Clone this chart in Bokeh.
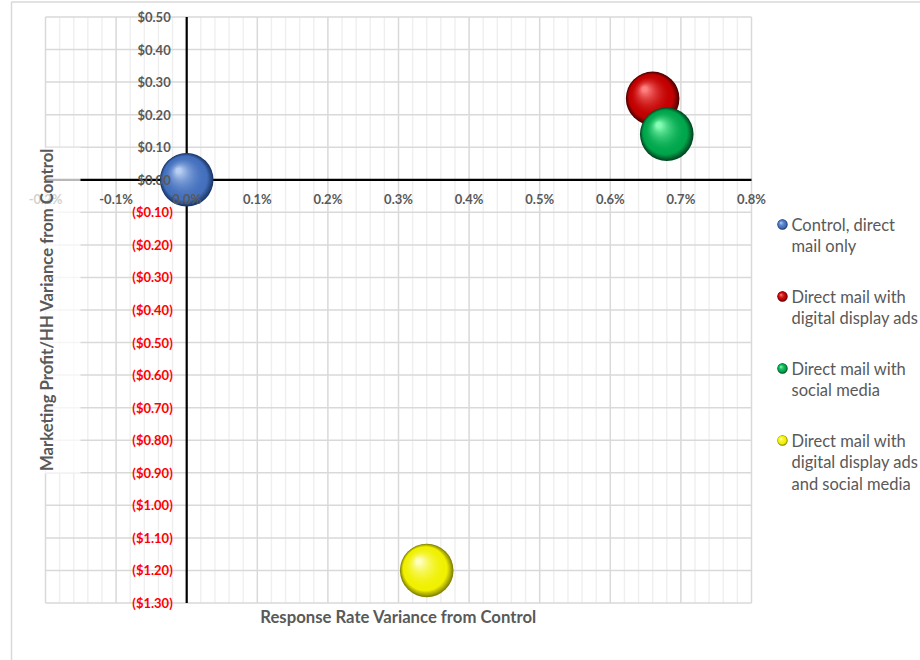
import numpy as np
from bokeh.plotting import figure
from bokeh.models import ColumnDataSource, Range1d
from bokeh.core.properties import value
from bokeh.embed import file_html
from bokeh.resources import INLINE

# ---------------- data ----------------
series = [
    "Control, direct mail only",
    "Direct mail with digital display ads",
    "Direct mail with social media",
    "Direct mail with digital display ads and social media",
]
legend_lines = [
    ["Control, direct", "mail only"],
    ["Direct mail with", "digital display ads"],
    ["Direct mail with", "social media"],
    ["Direct mail with", "digital display ads", "and social media"],
]
response_rate_var = [0.0000, 0.0066, 0.0068, 0.0034]
profit_per_hh_var = [0.00, 0.25, 0.14, -1.20]

x_ticks = [-0.002, -0.001, 0.0, 0.001, 0.002, 0.003, 0.004, 0.005, 0.006, 0.007, 0.008]
x_tick_labels = ["-0.2%", "-0.1%", "0.0%", "0.1%", "0.2%", "0.3%", "0.4%",
                 "0.5%", "0.6%", "0.7%", "0.8%"]
y_ticks = [0.5, 0.4, 0.3, 0.2, 0.1, 0.0, -0.1, -0.2, -0.3, -0.4, -0.5, -0.6,
           -0.7, -0.8, -0.9, -1.0, -1.1, -1.2, -1.3]
y_tick_labels = ["$0.50", "$0.40", "$0.30", "$0.20", "$0.10", "$0.00",
                 "($0.10)", "($0.20)", "($0.30)", "($0.40)", "($0.50)", "($0.60)",
                 "($0.70)", "($0.80)", "($0.90)", "($1.00)", "($1.10)", "($1.20)",
                 "($1.30)"]

# sphere shading per series: (rim, body, highlight)
sphere_colors = [
    ("#1c386a", "#4470bd", "#b8cff3"),
    ("#520000", "#c20000", "#ff8080"),
    ("#004a23", "#00a64c", "#86ffb6"),
    ("#858500", "#f0f000", "#ffffc0"),
]

# ---------------- layout helpers ----------------
W, H = 920, 660
FL, FR, FT, FB = 45.0, 751.0, 16.5, 602.5      # plot area in page pixels
X0, X1 = x_ticks[0], x_ticks[-1]
Y0, Y1 = y_ticks[-1], y_ticks[0]
DX = (X1 - X0) / (FR - FL)
DY = (Y1 - Y0) / (FB - FT)


def px_x(px):
    return X0 + (px - FL) * DX


def px_y(py):
    return Y1 - (py - FT) * DY


def hex_rgb(h):
    h = h.lstrip("#")
    return np.array([int(h[i:i + 2], 16) for i in (0, 2, 4)], dtype=float)


def mix(a, b, t):
    c = hex_rgb(a) * (1 - t) + hex_rgb(b) * t
    return "#%02x%02x%02x" % tuple(int(round(v)) for v in c)


def shade(colors, t):
    rim, body, hi = colors
    if t < 0.18:
        return mix(rim, body, t / 0.18)
    return mix(body, hi, ((t - 0.18) / 0.82) ** 2.0)


def sphere_layers(xs, ys, radius_px, color_sets, n=28):
    """Nested circles shrinking toward an upper-left focus to fake a lit sphere."""
    out = dict(x=[], y=[], size=[], color=[])
    for cx, cy, cols in zip(xs, ys, color_sets):
        for k in range(n):
            t = k / (n - 1)
            r = radius_px * (1 - 0.9 * t)
            out["x"].append(cx - 0.30 * radius_px * t * DX)
            out["y"].append(cy + 0.34 * radius_px * t * DY)
            out["size"].append(2 * r)
            out["color"].append(shade(cols, t))
    return out


FONT = value("Lato")
GRAY = "#595959"

p = figure(width=W, height=H, title=None,
           x_range=Range1d(px_x(0), px_x(W)), y_range=Range1d(px_y(H), px_y(0)),
           x_axis_location=None, y_axis_location=None,
           toolbar_location=None, output_backend="svg", min_border=0)
p.outline_line_color = None
p.background_fill_color = "white"
p.border_fill_color = "white"
p.grid.visible = False

# chart border
p.line(x=[px_x(11), px_x(11), px_x(W + 10)], y=[px_y(H + 10), px_y(1.5), px_y(1.5)],
       line_color="#d9d9d9", line_width=1.5)

# minor vertical grid (every 0.02%)
x_minor = [v for v in np.round(np.arange(X0, X1 + 1e-9, 0.0002), 6)
           if min(abs(v - t) for t in x_ticks) > 1e-7]
p.segment(x0=x_minor, x1=x_minor, y0=Y0, y1=Y1, line_color="#efefef", line_width=1.4)
# major grid
p.segment(x0=x_ticks, x1=x_ticks, y0=Y0, y1=Y1, line_color="#d9d9d9", line_width=1.5)
p.segment(x0=X0, x1=X1, y0=y_ticks, y1=y_ticks, line_color="#d9d9d9", line_width=1.5)

# axes crossing at zero
p.segment(x0=[X0, 0.0], x1=[X1, 0.0], y0=[0.0, Y0], y1=[0.0, Y1],
          line_color="black", line_width=2.2)

# bubbles
bubbles = ColumnDataSource(sphere_layers(response_rate_var, profit_per_hh_var, 26.8, sphere_colors))
p.scatter(x="x", y="y", size="size", fill_color="color", line_color=None, source=bubbles)

# tick labels
p.text(x=x_ticks, y=0.0, text=x_tick_labels, y_offset=19,
       text_align="center", text_baseline="middle", text_font=FONT,
       text_font_style="bold", text_font_size="13px", text_color=GRAY)
y_label_color = ["#ff0000" if v < 0 else GRAY for v in y_ticks]
y_label_off = [-14 if v < 0 else -16 for v in y_ticks]
p.text(x=0.0, y=y_ticks, text=y_tick_labels, x_offset=y_label_off,
       text_align="right", text_baseline="middle", text_font=FONT,
       text_font_style="bold", text_font_size="13px", text_color=y_label_color)

# backing box of the vertical axis title
p.quad(left=px_x(20), right=px_x(80), top=px_y(147), bottom=px_y(473),
       fill_color="white", fill_alpha=0.72, line_color=None)

# axis titles
p.text(x=[px_x(398)], y=[px_y(616)], text=["Response Rate Variance from Control"],
       text_align="center", text_baseline="middle", text_font=FONT,
       text_font_style="bold", text_font_size="16.7px", text_color=GRAY)
p.text(x=[px_x(46)], y=[px_y(309)], text=["Marketing Profit/HH Variance from Control"],
       angle=np.pi / 2, text_align="center", text_baseline="middle", text_font=FONT,
       text_font_style="bold", text_font_size="16.7px", text_color=GRAY)

# legend
LEG_X, LEG_Y, ITEM_GAP, LINE_GAP = 782, 224, 72, 21.5
mark_x = [px_x(LEG_X)] * len(series)
mark_y = [px_y(LEG_Y + ITEM_GAP * i) for i in range(len(series))]
marks = ColumnDataSource(sphere_layers(mark_x, mark_y, 5.2, sphere_colors, n=10))
p.scatter(x="x", y="y", size="size", fill_color="color", line_color=None, source=marks)
lx, ly, lt = [], [], []
for i, lines in enumerate(legend_lines):
    for j, s in enumerate(lines):
        lx.append(px_x(LEG_X + 9))
        ly.append(px_y(LEG_Y + ITEM_GAP * i + LINE_GAP * j))
        lt.append(s)
p.text(x=lx, y=ly, text=lt, text_align="left", text_baseline="middle",
       text_font=FONT, text_font_size="16.5px", text_color=GRAY)

open("out.html", "w").write(file_html(p, INLINE))
